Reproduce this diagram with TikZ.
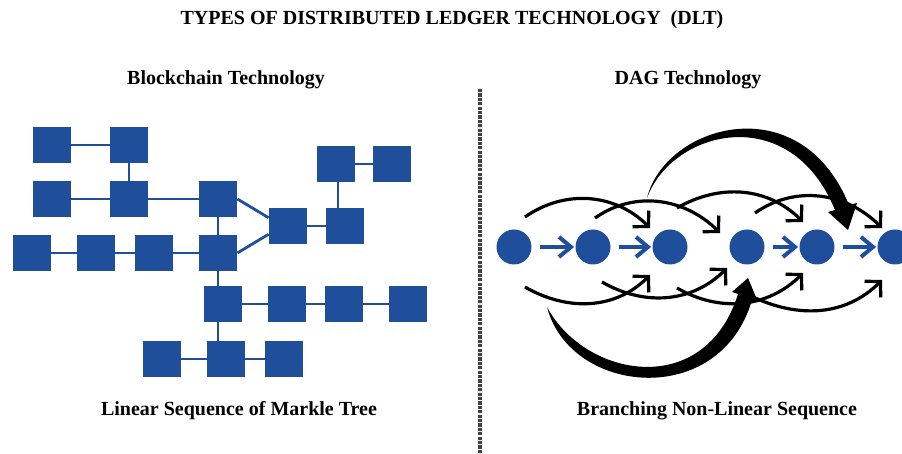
\documentclass[tikz,border=0pt]{standalone}
\usepackage{fontspec}
\setmainfont{Liberation Serif}
\usetikzlibrary{arrows.meta}
\definecolor{chainblue}{RGB}{31,79,155}

\begin{document}
\begin{tikzpicture}[x=0.5pt,y=0.5pt,
    block/.style={fill=chainblue,minimum width=19pt,minimum height=18pt,inner sep=0pt},
    link/.style={chainblue,line width=1.4pt},
    tx/.style={circle,fill=chainblue,minimum size=17.5pt,inner sep=0pt},
    flow/.style={chainblue,line width=2pt,-{Straight Barb[length=6pt,width=10pt]},shorten <=4pt,shorten >=0.5pt},
    jump/.style={line width=1.6pt,-{Straight Barb[length=5.5pt,width=11.5pt]}},
    headtext/.style={font=\bfseries}]
    \useasboundingbox (0,0) rectangle (902,-454);

    % Headings:
    \node[headtext] (title) at (452,-20) {TYPES OF DISTRIBUTED LEDGER TECHNOLOGY\ \ (DLT)};
    \node[headtext] (chainhead) at (226,-80) {Blockchain Technology};
    \node[headtext] (daghead) at (688,-80) {DAG Technology};
    \node[headtext] (chaincap) at (239,-411) {Linear Sequence of Markle Tree};
    \node[headtext] (dagcap) at (717,-411) {Branching Non-Linear Sequence};

    % divider
    \draw[black!75,line width=1.6pt,dash pattern=on 1.6pt off 0.6pt] (480,-89) -- (480,-454);

    \begin{scope}
    % Blocks:
    \foreach \n/\x/\y in {a1/52/145, a2/129/145,
                          b1/52/199, b2/129/199, b3/218/199,
                          c1/32/253, c2/96/253, c3/154/253, c4/218/253,
                          d1/288/226, d2/345/226,
                          e1/336/164, e2/392/164,
                          f1/223/304, f2/287/304, f3/344/304, f4/408/304,
                          g1/162/359, g2/226/359, g3/284/359}
        \node[block] (\n) at (\x,-\y) {};

    % chain links
    \foreach \a/\b in {a1/a2, a2/b2, b1/b2, b2/b3, b3/c4, c1/c2, c2/c3, c3/c4,
                       d1/d2, e1/e2, f1/f2, f2/f3, f3/f4, g1/g2, g2/g3}
        \draw[link] (\a) -- (\b);
    \draw[link] (b3.east) -- (d1.157);
    \draw[link] (c4.east) -- (d1.203);
    \draw[link] ([xshift=1pt]e1.south) -- ([xshift=1pt]e1.south |- d2.north);
    \draw[link] (c4.south) -- (c4.south |- g2.north);
    \end{scope}

    \begin{scope}
    % Transactions:
    \foreach \n/\x in {c1/514, c2/593, c3/670, c4/747, c5/817, c6/895}
        \node[tx] (t\n) at (\x,-247) {};

    \foreach \a/\b in {c1/c2, c2/c3, c4/c5, c5/c6}
        \draw[flow] (t\a) -- (t\b);

    % approvals above and below
    \foreach \s/\sx/\sy/\e/\ex/\ey/\o/\i in {
            c1/11/30/c3/-20/19/35/135, c2/2/29/c4/-27/14/35/135,
            c3/7/39/c5/-14/25/30/135, c4/8/34/c6/-13/19/35/135,
            c1/11/-40/c3/-20/-28/-30/-135, c2/9/-35/c4/-20/-21/-30/-135,
            c3/7/-41/c5/-14/-26/-30/-135, c4/6/-50/c6/-13/-33/-25/-135}
        \draw[jump] ([shift={(\sx,\sy)}]t\s.center) to[out=\o,in=\i] ([shift={(\ex,\ey)}]t\e.center);

    % the two long jumps
    \fill ([shift={(-23,49)}]tc3.center) .. controls (665,-125) and (800,-85) .. (849,-205)
        -- (857,-203) -- ([shift={(31,17)}]tc5.center) -- (828,-212) -- (835,-210)
        .. controls (790,-100) and (672,-130) .. ([shift={(-23,49)}]tc3.center) -- cycle;
    \fill ([shift={(33,-60)}]tc1.center) .. controls (570,-395) and (720,-410) .. (752,-300)
        -- (758,-302) -- ([shift={(1,-31)}]tc4.center) -- (732,-292) -- (738,-294)
        .. controls (705,-400) and (585,-378) .. ([shift={(33,-60)}]tc1.center) -- cycle;
    \end{scope}
\end{tikzpicture}
\end{document}
